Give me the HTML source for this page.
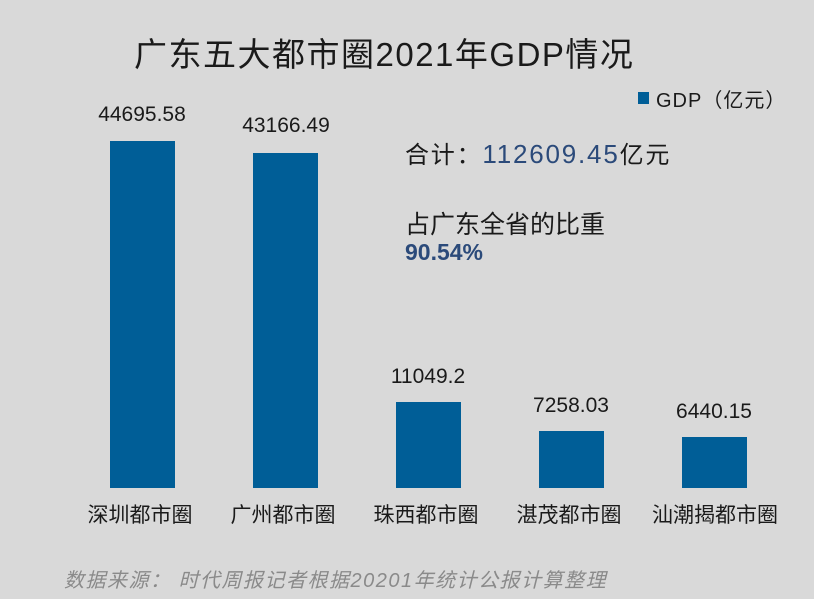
<!DOCTYPE html>
<html><head><meta charset="utf-8"><style>
body{margin:0;width:814px;height:602px;background:#d9d9d9;position:relative;overflow:hidden;font-family:"Liberation Sans","Noto Sans CJK SC",sans-serif;color:#1a1a1a}
.a{position:absolute;white-space:nowrap}
.bar{position:absolute;background:#005e97;width:65px;bottom:114px}
.v{position:absolute;font-size:21px;width:140px;text-align:center}
.c{position:absolute;font-size:21px;width:140px;text-align:center;top:499px}
</style></head><body>
<div class="a" style="left:134px;top:28px;font-size:33px;letter-spacing:1.5px">广东五大都市圈2021年GDP情况</div>
<div class="a" style="left:638px;top:92px;width:11px;height:12px;background:#005e97"></div>
<div class="a" style="left:656px;top:84px;font-size:20px;letter-spacing:1px">GDP（亿元）</div>
<div class="a" style="left:405px;top:135px;font-size:24px;letter-spacing:1.8px">合计：<span style="color:#2b4a7a;font-size:26px">112609.45</span>亿元</div>
<div class="a" style="left:405px;top:205px;font-size:25px">占广东全省的比重</div>
<div class="a" style="left:405px;top:239px;font-size:23px;font-weight:bold;color:#2b4a7a">90.54%</div>
<div class="bar" style="left:110px;top:141px"></div>
<div class="bar" style="left:253px;top:153px"></div>
<div class="bar" style="left:396px;top:402px"></div>
<div class="bar" style="left:539px;top:431px"></div>
<div class="bar" style="left:682px;top:437px"></div>
<div class="v" style="left:72px;top:103px">44695.58</div>
<div class="v" style="left:216px;top:114px">43166.49</div>
<div class="v" style="left:358px;top:365px">11049.2</div>
<div class="v" style="left:501px;top:394px">7258.03</div>
<div class="v" style="left:644px;top:400px">6440.15</div>
<div class="c" style="left:70px">深圳都市圈</div>
<div class="c" style="left:213px">广州都市圈</div>
<div class="c" style="left:356px">珠西都市圈</div>
<div class="c" style="left:499px">湛茂都市圈</div>
<div class="c" style="left:645px">汕潮揭都市圈</div>
<div class="a" style="left:64px;top:564px;font-size:20px;font-style:italic;color:#8a8a8a;letter-spacing:1.5px">数据来源： 时代周报记者根据20201年统计公报计算整理</div>
<div class="a" style="left:0;top:599px;width:814px;height:3px;background:#fff"></div>
</body></html>
